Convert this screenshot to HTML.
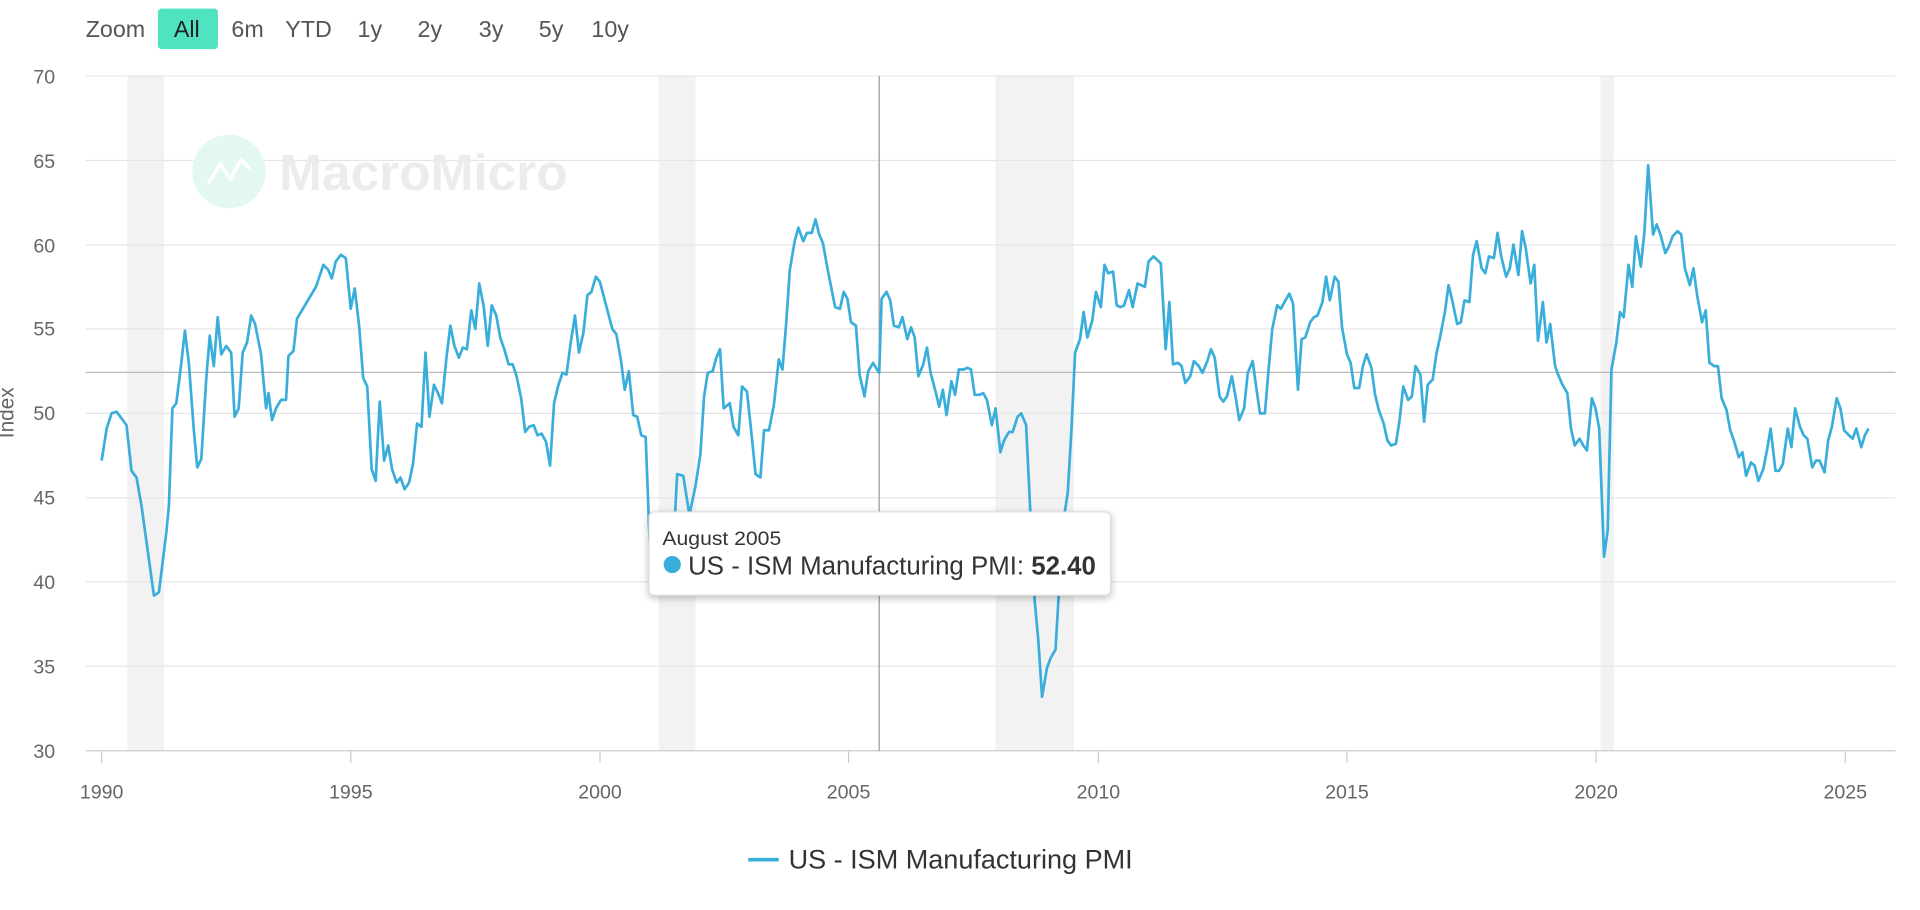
<!DOCTYPE html>
<html><head><meta charset="utf-8"><style>
html,body{margin:0;padding:0;background:#fff;width:1920px;height:910px;overflow:hidden}
svg{display:block;font-family:"Liberation Sans",sans-serif}
</style></head><body>
<svg id="s" width="1920" height="910" viewBox="0 0 1568 743" xmlns="http://www.w3.org/2000/svg">
<g font-size="19" fill="#555">
<text x="70" y="30">Zoom</text>
<rect x="129" y="7" width="49" height="33" rx="3" fill="#4fe3c1"/>
<text x="142" y="30" fill="#222">All</text>
<text x="189" y="30">6m</text><text x="233" y="30">YTD</text><text x="292" y="30">1y</text>
<text x="341" y="30">2y</text><text x="391" y="30">3y</text><text x="440" y="30">5y</text><text x="483" y="30">10y</text>
</g>
<g fill="#f2f2f2">
<rect x="104" y="62" width="30" height="551"/><rect x="538" y="62" width="30" height="551"/>
<rect x="813" y="62" width="64" height="551"/><rect x="1307" y="62" width="11" height="551"/>
</g>
<g stroke="#e6e6e6" stroke-width="1">
<line x1="70" x2="1548" y1="62" y2="62"/><line x1="70" x2="1548" y1="131" y2="131"/>
<line x1="70" x2="1548" y1="200" y2="200"/><line x1="70" x2="1548" y1="268.5" y2="268.5"/>
<line x1="70" x2="1548" y1="337.5" y2="337.5"/><line x1="70" x2="1548" y1="406.5" y2="406.5"/>
<line x1="70" x2="1548" y1="475" y2="475"/><line x1="70" x2="1548" y1="544" y2="544"/>
</g>
<line x1="70" x2="1548" y1="613" y2="613" stroke="#ccc"/>
<g stroke="#ccc"><line x1="83" x2="83" y1="613" y2="623"/><line x1="286.5" x2="286.5" y1="613" y2="623"/><line x1="490" x2="490" y1="613" y2="623"/><line x1="693" x2="693" y1="613" y2="623"/><line x1="897" x2="897" y1="613" y2="623"/><line x1="1100" x2="1100" y1="613" y2="623"/><line x1="1303.5" x2="1303.5" y1="613" y2="623"/><line x1="1507" x2="1507" y1="613" y2="623"/></g>
<g font-size="16" fill="#666" text-anchor="end">
<text x="45" y="68">70</text><text x="45" y="137">65</text><text x="45" y="206">60</text><text x="45" y="274">55</text>
<text x="45" y="343">50</text><text x="45" y="412">45</text><text x="45" y="481">40</text><text x="45" y="550">35</text><text x="45" y="619">30</text>
</g>
<g font-size="16" fill="#666" text-anchor="middle">
<text x="83" y="652">1990</text><text x="286.5" y="652">1995</text><text x="490" y="652">2000</text><text x="693" y="652">2005</text>
<text x="897" y="652">2010</text><text x="1100" y="652">2015</text><text x="1303.5" y="652">2020</text><text x="1507" y="652">2025</text>
</g>
<text transform="translate(11,337) rotate(-90)" font-size="17" fill="#666" text-anchor="middle">Index</text>
<circle cx="187" cy="140" r="30" fill="#e3f8f2"/>
<polyline points="170,150 180,134 188,146 197,130 204,138" fill="none" stroke="#fff" stroke-width="3"/>
<text x="228" y="155" font-size="42" font-weight="bold" fill="#ececec">MacroMicro</text>
<line x1="718" x2="718" y1="62" y2="613" stroke="#999" stroke-width="1"/>
<line x1="70" x2="1548" y1="304" y2="304" stroke="#bbb" stroke-width="1"/>
<path id="p" fill="none" stroke="#3aaedb" stroke-width="2.2" stroke-linejoin="round"/>
<line x1="611" x2="636" y1="702" y2="702" stroke="#3aaedb" stroke-width="3"/>
<text x="644" y="709" font-size="22" fill="#333" textLength="281" lengthAdjust="spacingAndGlyphs">US - ISM Manufacturing PMI</text>
<rect x="530" y="418" width="377" height="68" rx="4" fill="#fff" stroke="#ddd" style="filter:drop-shadow(0 2px 3px rgba(0,0,0,.25))"/>
<text x="541" y="445" font-size="16" fill="#333" textLength="97" lengthAdjust="spacingAndGlyphs">August 2005</text>
<circle cx="549" cy="461" r="7" fill="#3aaedb"/>
<text x="562" y="469" font-size="21" fill="#333" textLength="333" lengthAdjust="spacingAndGlyphs">US - ISM Manufacturing PMI: <tspan font-weight="bold">52.40</tspan></text>
</svg>
<script>
var yr=[[1990,47.2],[1990.1,49.1],[1990.2,50],[1990.3,50.1],[1990.5,49.3],[1990.6,46.6],[1990.7,46.2],[1990.8,44.5],[1990.95,41.3],[1991.05,39.2],[1991.15,39.4],[1991.3,43],[1991.35,44.5],[1991.42,50.3],[1991.5,50.6],[1991.6,53],[1991.67,54.9],[1991.75,53],[1991.85,49],[1991.92,46.8],[1992,47.3],[1992.1,52],[1992.17,54.6],[1992.25,52.8],[1992.33,55.7],[1992.4,53.5],[1992.5,54],[1992.6,53.6],[1992.67,49.8],[1992.75,50.3],[1992.83,53.6],[1992.92,54.2],[1993,55.8],[1993.08,55.3],[1993.2,53.5],[1993.3,50.3],[1993.35,51.2],[1993.42,49.6],[1993.5,50.3],[1993.6,50.8],[1993.7,50.8],[1993.75,53.4],[1993.85,53.7],[1993.92,55.6],[1994.1,56.5],[1994.3,57.5],[1994.45,58.8],[1994.55,58.5],[1994.62,58],[1994.7,59],[1994.8,59.4],[1994.9,59.2],[1995,56.2],[1995.08,57.4],[1995.17,55.1],[1995.25,52.1],[1995.33,51.6],[1995.42,46.7],[1995.5,46],[1995.58,50.7],[1995.67,47.2],[1995.75,48.1],[1995.83,46.7],[1995.92,45.9],[1996,46.2],[1996.08,45.5],[1996.17,45.9],[1996.25,47],[1996.33,49.4],[1996.42,49.2],[1996.5,53.6],[1996.58,49.8],[1996.67,51.7],[1996.75,51.2],[1996.83,50.6],[1996.92,53.3],[1997,55.2],[1997.08,54],[1997.17,53.3],[1997.25,53.9],[1997.33,53.8],[1997.42,56.1],[1997.5,55],[1997.58,57.7],[1997.67,56.3],[1997.75,54],[1997.83,56.4],[1997.92,55.8],[1998,54.5],[1998.08,53.8],[1998.17,52.9],[1998.25,52.9],[1998.33,52.2],[1998.42,50.9],[1998.5,48.9],[1998.58,49.2],[1998.67,49.3],[1998.75,48.7],[1998.83,48.8],[1998.92,48.3],[1999,46.9],[1999.08,50.6],[1999.17,51.7],[1999.25,52.4],[1999.33,52.3],[1999.42,54.3],[1999.5,55.8],[1999.58,53.6],[1999.67,54.8],[1999.75,57],[1999.83,57.2],[1999.92,58.1],[2000,57.8],[2000.08,56.9],[2000.17,55.9],[2000.25,55],[2000.33,54.7],[2000.42,53.2],[2000.5,51.4],[2000.58,52.5],[2000.67,49.9],[2000.75,49.8],[2000.83,48.7],[2000.92,48.6],[2001,42.3],[2001.08,41.9],[2001.17,43.1],[2001.25,42.7],[2001.33,41.3],[2001.42,43.2],[2001.5,43.5]];
var px=[[553,46.4],[558,46.3],[563,44],[568,45.7],[572,47.6],[575,51],[578,52.4],[582,52.5],[585,53.3],[588,53.8],[591,50.3],[596,50.6],[599,49.2],[603,48.7],[606,51.6],[610,51.3],[614,48.6],[617,46.4],[621,46.2],[624,49],[628,49],[632,50.5],[636,53.2],[639,52.6],[642,55.3],[645,58.5],[649,60.2],[652,61],[656,60.2],[659,60.7],[663,60.7],[666,61.5],[669,60.6],[672,60.1],[676,58.5],[679,57.4],[682,56.3],[686,56.2],[689,57.2],[692,56.8],[695,55.4],[699,55.2],[702,52.3],[706,51],[709,52.5],[713,53],[718,52.4],[720,56.8],[724,57.2],[727,56.7],[730,55.2],[734,55.1],[737,55.7],[741,54.4],[744,55.1],[747,54.5],[750,52.2],[754,52.9],[757,53.9],[760,52.4],[764,51.3],[767,50.4],[770,51.4],[773,49.9],[777,51.9],[780,51.1],[783,52.6],[787,52.6],[790,52.7],[793,52.6],[796,51.1],[800,51.1],[803,51.2],[806,50.8],[810,49.3],[813,50.3],[817,47.7],[820,48.4],[824,48.9],[827,48.9],[831,49.8],[834,50],[838,49.3],[841,44.8],[845,38.9],[848,36.5],[851,33.2],[855,34.9],[858,35.5],[862,36],[865,39.7],[868,43.4],[872,45.3],[875,49],[878,53.6],[882,54.4],[885,56],[888,54.5],[892,55.5],[895,57.2],[899,56.3],[902,58.8],[905,58.3],[909,58.4],[912,56.4],[915,56.3],[918,56.4],[922,57.3],[925,56.3],[929,57.7],[932,57.6],[935,57.5],[938,59],[942,59.3],[945,59.1],[948,58.9],[952,53.8],[955,56.6],[958,52.9],[962,53],[965,52.8],[968,51.8],[972,52.2],[975,53.1],[979,52.8],[982,52.4],[986,53.1],[989,53.8],[992,53.3],[996,51],[999,50.7],[1002,51],[1006,52.2],[1009,51],[1012,49.6],[1016,50.3],[1019,52.4],[1023,53.1],[1026,51.5],[1029,50],[1033,50],[1036,52.6],[1039,55],[1043,56.4],[1046,56.2],[1049,56.6],[1053,57.1],[1056,56.5],[1060,51.4],[1063,54.4],[1066,54.5],[1070,55.4],[1073,55.7],[1076,55.8],[1080,56.6],[1083,58.1],[1086,56.7],[1090,58.1],[1093,57.8],[1096,55.1],[1100,53.5],[1103,53],[1106,51.5],[1110,51.5],[1113,52.8],[1116,53.5],[1120,52.7],[1123,51.1],[1126,50.2],[1130,49.4],[1133,48.4],[1136,48.1],[1140,48.2],[1143,49.6],[1146,51.6],[1150,50.8],[1153,51],[1156,52.8],[1160,52.3],[1163,49.5],[1166,51.7],[1170,52],[1173,53.5],[1176,54.5],[1180,56],[1183,57.6],[1186,56.7],[1190,55.3],[1193,55.4],[1196,56.7],[1200,56.6],[1203,59.4],[1206,60.2],[1210,58.6],[1213,58.3],[1216,59.3],[1220,59.2],[1223,60.7],[1226,59.3],[1230,58.1],[1233,58.6],[1236,60],[1240,58.2],[1243,60.8],[1246,59.8],[1250,57.7],[1253,58.8],[1256,54.3],[1260,56.6],[1263,54.2],[1266,55.3],[1270,52.8],[1273,52.2],[1276,51.7],[1280,51.2],[1283,49.1],[1286,48.1],[1290,48.5],[1293,48.1],[1296,47.8],[1300,50.9],[1303,50.3],[1306,49.1],[1310,41.5],[1313,43.1],[1316,52.6],[1320,54.2],[1323,56],[1326,55.7],[1330,58.8],[1333,57.5],[1336,60.5],[1340,58.7],[1343,60.8],[1346,64.7],[1350,60.6],[1353,61.2],[1356,60.6],[1360,59.5],[1363,59.9],[1366,60.5],[1370,60.8],[1373,60.6],[1376,58.6],[1380,57.6],[1383,58.6],[1386,57],[1390,55.4],[1393,56.1],[1396,53],[1400,52.8],[1403,52.8],[1406,50.9],[1410,50.2],[1413,49],[1416,48.4],[1420,47.4],[1423,47.7],[1426,46.3],[1430,47.1],[1433,46.9],[1436,46],[1440,46.7],[1443,47.8],[1446,49.1],[1450,46.6],[1453,46.6],[1456,47],[1460,49.1],[1463,48],[1466,50.3],[1470,49.2],[1473,48.7],[1476,48.5],[1480,46.8],[1483,47.2],[1486,47.2],[1490,46.5],[1493,48.4],[1496,49.2],[1500,50.9],[1503,50.3],[1506,49],[1510,48.7],[1513,48.5],[1516,49.1],[1520,48],[1523,48.7],[1526,49.1]];
var pts=[];
yr.forEach(function(a){pts.push([83+(a[0]-1990)*40.69,a[1]])});
px.forEach(function(a){pts.push(a)});
var d=pts.map(function(a,i){return (i?'L':'M')+a[0].toFixed(1)+','+(337.5-(a[1]-50)*13.78).toFixed(1)}).join('');
document.getElementById('p').setAttribute('d',d);
</script>
</body></html>
